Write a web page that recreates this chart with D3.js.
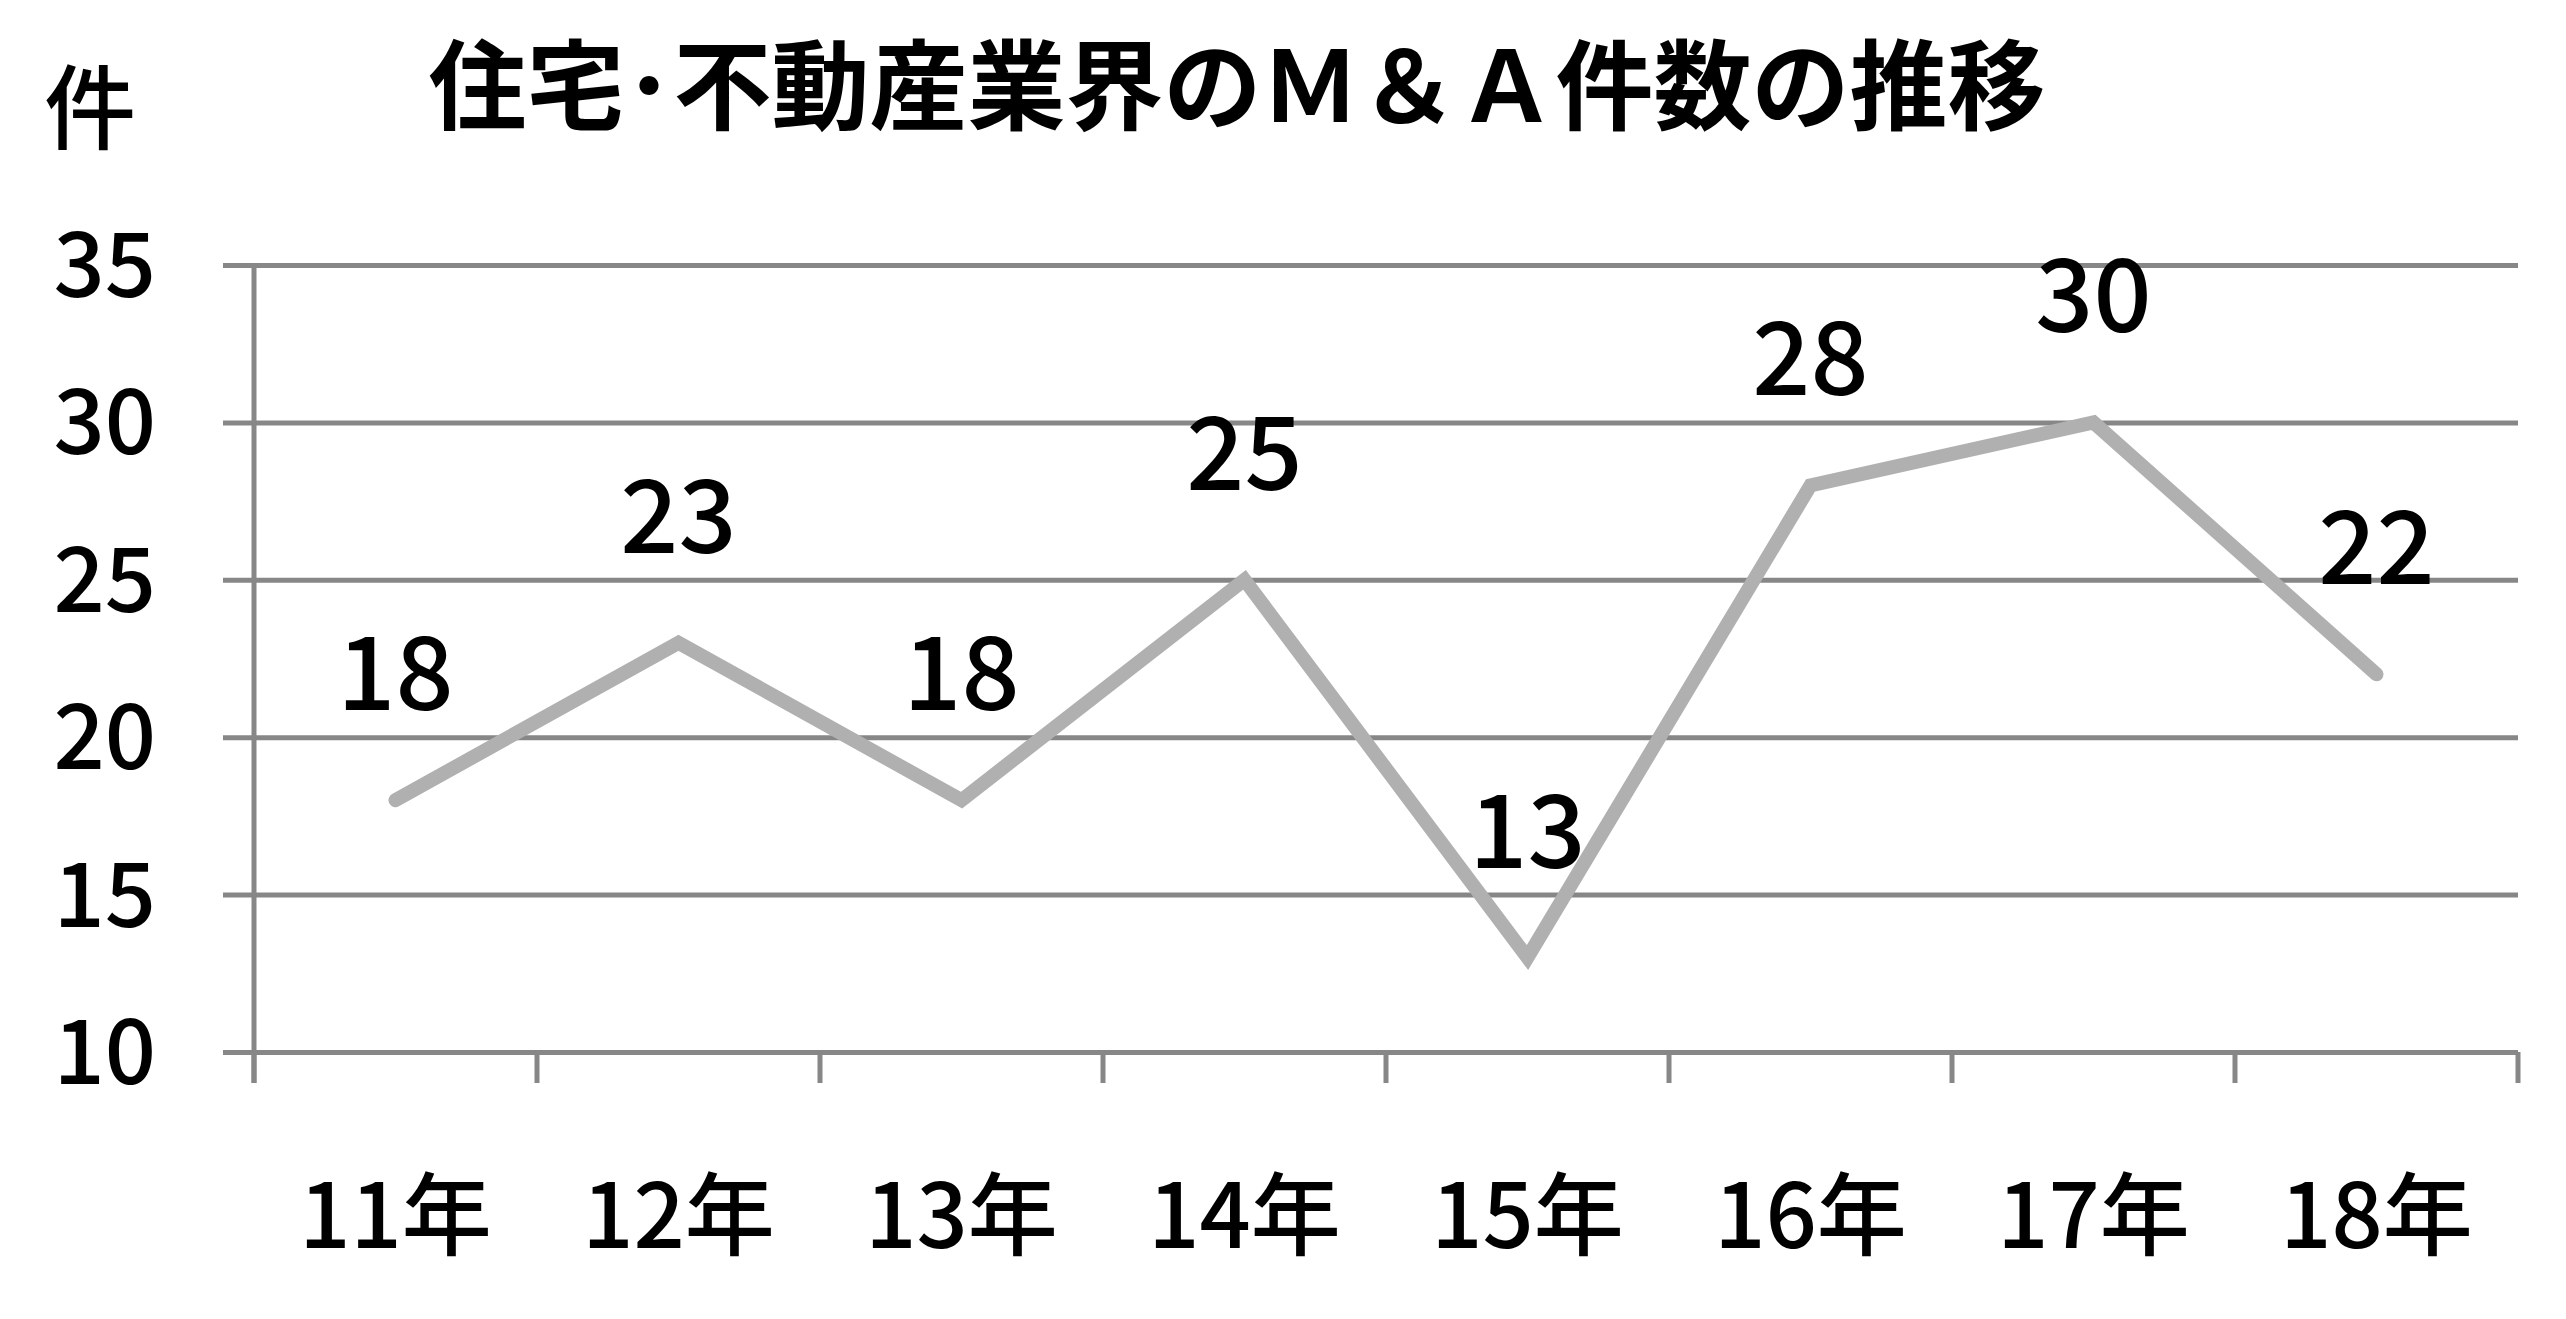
<!DOCTYPE html>
<html><head><meta charset="utf-8">
<script src="https://cdn.jsdelivr.net/npm/d3@7"></script>
<style>
html,body{margin:0;padding:0;background:#fff;}
svg{display:block;}
text{font-family:"Noto Sans CJK JP","Noto Sans",sans-serif;fill:#000;font-weight:500;}
text.title{font-weight:700;}
</style></head>
<body>
<script>
const categories = ["11年","12年","13年","14年","15年","16年","17年","18年"];
const values = [18,23,18,25,13,28,30,22];
const yTicks = [10,15,20,25,30,35];
const titleText = "住宅･不動産業界のＭ＆Ａ件数の推移";
const unitText = "件";

(function(){
const W = 2566, H = 1319;
const svg = d3.select("body").append("svg").attr("width", W).attr("height", H);
svg.append("rect").attr("width", W).attr("height", H).attr("fill", "#fff");

const pLeft = 254, pRight = 2518, pTop = 265, pBottom = 1052;
const x = d3.scaleBand().domain(categories).range([pLeft, pRight]).paddingInner(0).paddingOuter(0);
const y = d3.scaleLinear().domain([10, 35]).range([pBottom, pTop]);
const gridColor = "#878787";

// gridlines
const grid = svg.append("g").attr("transform", `translate(223,0)`)
  .call(d3.axisRight(y).tickValues(yTicks).tickSize(pRight - 223).tickFormat(""));
grid.select(".domain").remove();
grid.selectAll("line").attr("stroke", gridColor).attr("stroke-width", 5);

// y labels
const yl = svg.append("g").attr("transform", `translate(${pLeft},0)`)
  .call(d3.axisLeft(y).tickValues(yTicks).tickSize(0).tickPadding(98).tickFormat(d3.format("d")));
yl.select(".domain").remove();
yl.selectAll("text").attr("font-size", 90).attr("font-family", null).attr("dy", "0.35em").attr("fill", "#000");

// y axis line
svg.append("line").attr("x1", pLeft).attr("x2", pLeft).attr("y1", y(35)).attr("y2", pBottom + 31)
  .attr("stroke", gridColor).attr("stroke-width", 5);

// x tick marks at band boundaries
const bounds = d3.range(categories.length + 1).map(i => pLeft + i * x.step());
svg.append("g").selectAll("line").data(bounds).join("line")
  .attr("x1", d => d).attr("x2", d => d).attr("y1", pBottom).attr("y2", pBottom + 31)
  .attr("stroke", gridColor).attr("stroke-width", 5);

// x labels
const xl = svg.append("g").attr("transform", `translate(0,${pBottom})`)
  .call(d3.axisBottom(x).tickSize(0).tickPadding(0));
xl.select(".domain").remove();
xl.selectAll("text").attr("font-size", 90).attr("font-family", null).attr("dy", null)
  .attr("y", 196).attr("fill", "#000");

// line
const line = d3.line().x((d, i) => x(categories[i]) + x.bandwidth() / 2).y(d => y(d));
svg.append("path").datum(values).attr("d", line)
  .attr("fill", "none").attr("stroke", "#b0b0b0").attr("stroke-width", 14)
  .attr("stroke-linecap", "round").attr("stroke-linejoin", "miter");

// data labels
svg.append("g").selectAll("text").data(values).join("text")
  .attr("x", (d, i) => x(categories[i]) + x.bandwidth() / 2)
  .attr("y", d => y(d) - 90)
  .attr("text-anchor", "middle").attr("font-size", 102)
  .text(d => d);

// title
svg.append("text").attr("class", "title").attr("x", 1237).attr("y", 122).attr("text-anchor", "middle")
  .attr("font-size", 98).text(titleText);
// unit
svg.append("text").attr("x", 90).attr("y", 142).attr("text-anchor", "middle")
  .attr("font-size", 92).text(unitText);
})();
</script>
</body></html>
